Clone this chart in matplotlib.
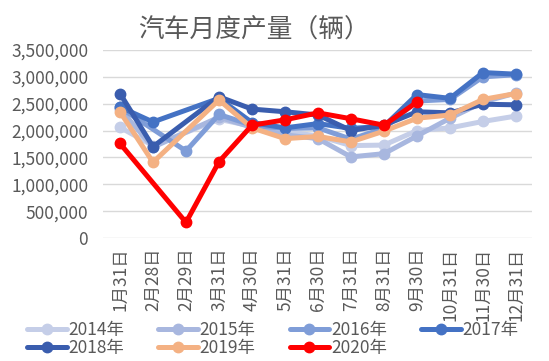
import numpy as np
import matplotlib
matplotlib.use("Agg")
import matplotlib.pyplot as plt
from matplotlib.ticker import FuncFormatter

plt.rcParams['font.family'] = ['Noto Sans CJK SC', 'DejaVu Sans']

## DATA ##
cats = ['1月31日', '2月28日', '2月29日', '3月31日', '4月30日', '5月31日', '6月30日',
        '7月31日', '8月31日', '9月30日', '10月31日', '11月30日', '12月31日']

y2014 = [2060000, 1720000, None, 2210000, 2080000, 1980000, 1900000, 1720000, 1730000, 2000000, 2050000, 2170000, 2270000]
y2015 = [2400000, 1690000, None, 2250000, 2060000, 1920000, 1850000, 1510000, 1570000, 1900000, 2230000, 2530000, 2700000]
y2016 = [2430000, None, 1620000, 2300000, 2100000, 2040000, 2050000, 1840000, 2040000, 2550000, 2580000, 3000000, 3040000]
y2017 = [2440000, 2160000, None, 2600000, 2150000, 2050000, 2130000, 2040000, 2080000, 2670000, 2600000, 3080000, 3050000]
y2018 = [2690000, 1700000, None, 2630000, 2400000, 2350000, 2290000, 2000000, 2100000, 2350000, 2330000, 2490000, 2480000]
y2019 = [2350000, 1410000, None, 2570000, 2050000, 1850000, 1890000, 1790000, 1990000, 2230000, 2290000, 2580000, 2690000]
y2020 = [1760000, None, 290000, 1420000, 2100000, 2200000, 2330000, 2220000, 2100000, 2530000, None, None, None]

series = [('2014年', y2014, '#C5CEE8'),
          ('2015年', y2015, '#A8B7DF'),
          ('2016年', y2016, '#7F9DD8'),
          ('2017年', y2017, '#4472C4'),
          ('2018年', y2018, '#3A5DAE'),
          ('2019年', y2019, '#F4B183'),
          ('2020年', y2020, '#FF0000')]

fig = plt.figure(figsize=(5.49, 3.61), dpi=100)
ax = fig.add_axes([0.1885, 0.3407, 0.7814, 0.5208])

x = np.arange(len(cats))
handles = []
for name, vals, col in series:
    # skip empty months, line joins over the gap
    xi = [i for i, v in enumerate(vals) if v is not None]
    yi = [v for v in vals if v is not None]
    h, = ax.plot(xi, yi, color=col, lw=3.6, marker='o', ms=7.5,
                 solid_capstyle='round', solid_joinstyle='round', label=name)
    handles.append(h)

ax.set_xlim(-0.5, len(cats) - 0.5)
ax.set_ylim(0, 3500000)
ax.set_yticks(np.arange(0, 3500001, 500000))
ax.yaxis.set_major_formatter(FuncFormatter(lambda v, p: f'{int(v):,}'))
ax.set_xticks(x)
ax.set_xticklabels(cats, rotation=90)
ax.tick_params(axis='both', length=0, labelsize=12.5, colors='#595959')
ax.tick_params(axis='y', pad=11)
ax.tick_params(axis='x', pad=7)
ax.grid(axis='y', color='#D9D9D9', lw=1)
ax.set_axisbelow(True)
for s in ax.spines.values():
    s.set_visible(False)

fig.text(0.463, 0.915, '汽车月度产量（辆）', ha='center', va='center',
         fontsize=18.5, color='#595959')

# legend filled row by row like excel
order = [0, 4, 1, 5, 2, 6, 3]
leg = fig.legend([handles[i] for i in order], [series[i][0] for i in order],
                 loc='lower left', bbox_to_anchor=(0.036, -0.008), ncol=4,
                 frameon=False, fontsize=12.5, handlelength=2.3,
                 handletextpad=0.1, columnspacing=1.95, labelspacing=0.0,
                 borderaxespad=0)
for t in leg.get_texts():
    t.set_color('#595959')

fig.savefig('out.png', dpi=100)
